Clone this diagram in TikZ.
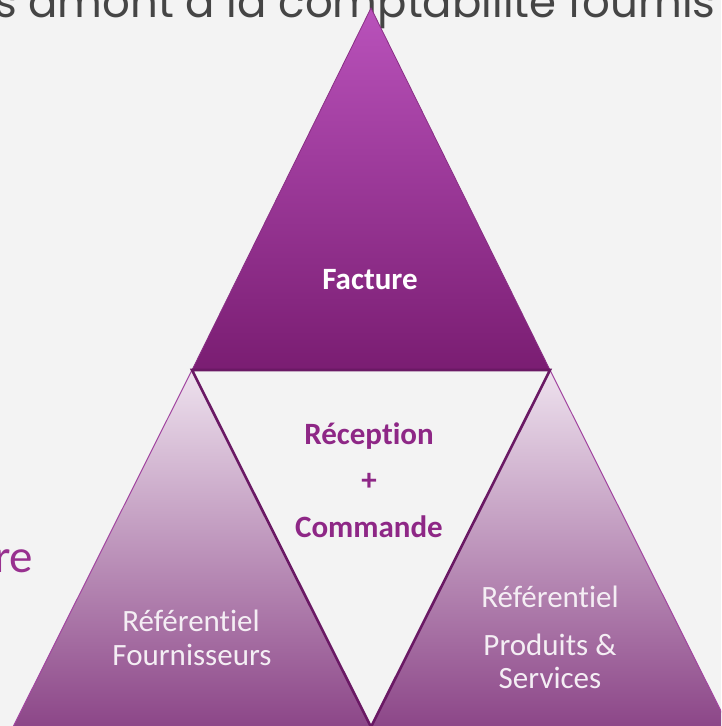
\documentclass[tikz,border=0pt]{standalone}
\usepackage{fontspec}
\setmainfont{Carlito}[Ligatures=NoCommon]
\newfontfamily\titlefont{Poppins}
\definecolor{bg}{HTML}{F3F3F3}
\definecolor{titlegray}{HTML}{454545}
\definecolor{topTop}{HTML}{B952BB}
\definecolor{topBot}{HTML}{7A1D72}
\definecolor{topEdge}{HTML}{8A2F85}
\definecolor{sideTop}{HTML}{EEE2EE}
\definecolor{sideBot}{HTML}{8C4688}
\definecolor{sideEdge}{HTML}{A245A0}
\definecolor{midLine}{HTML}{6A1964}
\definecolor{midText}{HTML}{8E2786}
\definecolor{refText}{HTML}{F4EEF4}
\definecolor{rePurple}{HTML}{98308F}
\tikzset{
  sidetri/.style={top color=sideTop,bottom color=sideBot,draw=sideEdge,line width=1pt},
  toptri/.style={top color=topTop,bottom color=topBot,draw=topEdge,line width=0.8pt},
  midtri/.style={draw=midLine,line width=2.6pt,line join=miter},
  factxt/.style={anchor=base,text=white,font=\bfseries\fontsize{31}{34}\selectfont},
  midtxt/.style={anchor=base,text=midText,font=\bfseries\fontsize{31}{34}\selectfont},
  reftxt/.style={anchor=base,text=refText,font=\fontsize{31}{34}\selectfont},
}
\begin{document}
\begin{tikzpicture}[x=1pt,y=-1pt]
\useasboundingbox (0,0) rectangle (721,726);
\clip (0,0) rectangle (721,726);
\fill[bg] (0,0) rectangle (721,726);
% title (cut off at the top)
\node[anchor=base west,text=titlegray,inner sep=0pt,font=\titlefont\fontsize{43.5}{50}\selectfont] (title) at (-6,17) {s amont à la comptabilité fournis};
% partial word on the left
\node[anchor=base west,text=rePurple,inner sep=0pt,font=\fontsize{47}{50}\selectfont] (re) at (-6,572) {re};
% vertices
\coordinate (A) at (371,8);
\coordinate (L) at (192,370);
\coordinate (R) at (550,370);
\coordinate (M) at (371,727);
\coordinate (LL) at (13,727);
\coordinate (RR) at (729,727);
% triangles
\shade[sidetri] (L) -- (LL) -- (M) -- cycle;
\shade[sidetri] (R) -- (M) -- (RR) -- cycle;
\shade[toptri] (A) -- (L) -- (R) -- cycle;
\draw[midtri] (L) -- (R) -- (M) -- cycle;
% texts
\node[factxt] (facture) at (370,289) {Facture};
\node[midtxt] (reception) at (369,444) {Réception};
\node[midtxt] (plus) at (369,490) {+};
\node[midtxt] (commande) at (369,537) {Commande};
\node[reftxt] (refF1) at (191,631) {Référentiel};
\node[reftxt] (refF2) at (192,665) {Fournisseurs};
\node[reftxt] (refP1) at (550,607) {Référentiel};
\node[reftxt] (refP2) at (550,655) {Produits \&};
\node[reftxt] (refP3) at (550,688) {Services};
\end{tikzpicture}
\end{document}
